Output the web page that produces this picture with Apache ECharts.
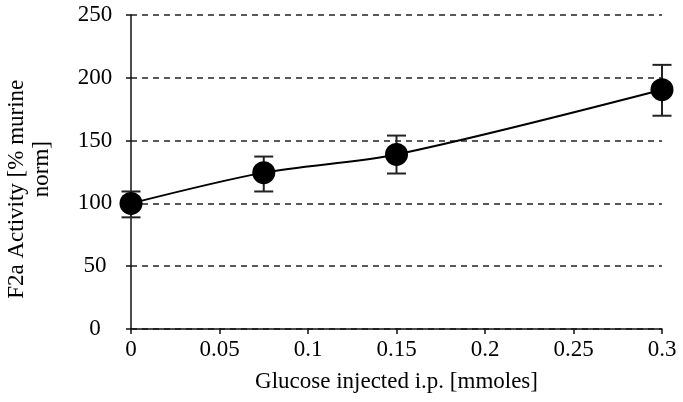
<!DOCTYPE html>
<html>
<head>
<meta charset="utf-8">
<script src="https://cdn.jsdelivr.net/npm/echarts@6/dist/echarts.min.js"></script>
<style>
html,body{margin:0;padding:0;background:#fff;}
#chart{width:683px;height:402px;}
</style>
</head>
<body>
<div id="chart"></div>
<script>
var glucose = [0, 0.075, 0.15, 0.3];
var activity = [100, 124.5, 139, 190.5];
var errLow = [88.9, 109.5, 123.8, 169.8];
var errHigh = [109.5, 137.3, 154, 210.3];
var xTicks = [0, 0.05, 0.1, 0.15, 0.2, 0.25, 0.3];
var yTicks = [0, 50, 100, 150, 200, 250];

var FONT = '"Liberation Serif", "Times New Roman", serif';
var INK = '#000';

var points = glucose.map(function (x, i) { return [x, activity[i]]; });
var errData = glucose.map(function (x, i) { return [x, errLow[i], errHigh[i]]; });

var chart = echarts.init(document.getElementById('chart'));
chart.setOption({
  animation: false,
  backgroundColor: '#fff',
  grid: { left: 131, right: 21, top: 15, bottom: 73, containLabel: false, outerBoundsMode: 'none' },
  xAxis: {
    type: 'value',
    min: xTicks[0],
    max: xTicks[xTicks.length - 1],
    interval: 0.05,
    name: 'Glucose injected i.p. [mmoles]',
    nameLocation: 'middle',
    nameGap: 41,
    nameTextStyle: { fontFamily: FONT, fontSize: 23, color: INK },
    axisLine: { show: true, onZero: false, lineStyle: { color: '#111', width: 1.5 } },
    axisTick: { show: true, inside: false, length: 5, lineStyle: { color: '#111', width: 1.5 } },
    axisLabel: {
      margin: 9,
      fontFamily: FONT, fontSize: 23, color: INK,
      showMinLabel: true, showMaxLabel: true,
      formatter: function (v) { return String(+v.toFixed(2)); }
    },
    splitLine: { show: false }
  },
  yAxis: {
    type: 'value',
    min: yTicks[0],
    max: yTicks[yTicks.length - 1],
    interval: 50,
    name: 'F2a Activity [% murine      \n norm]',
    nameLocation: 'middle',
    nameGap: 77,
    nameTextStyle: { fontFamily: FONT, fontSize: 23, color: INK, lineHeight: 25 },
    axisLine: { show: true, onZero: false, lineStyle: { color: '#111', width: 1.5 } },
    axisTick: { show: true, inside: false, length: 5, lineStyle: { color: '#111', width: 1.5 } },
    axisLabel: {
      margin: 36, align: 'center',
      fontFamily: FONT, fontSize: 23, color: INK,
      showMinLabel: true, showMaxLabel: true
    },
    splitLine: { show: true, lineStyle: { color: '#222', width: 1.5, type: [6, 5] } }
  },
  series: [
    {
      type: 'custom',
      z: 2,
      data: errData,
      renderItem: function (params, api) {
        var x = api.value(0);
        var lo = api.coord([x, api.value(1)]);
        var hi = api.coord([x, api.value(2)]);
        var hw = 9.5;
        var st = { stroke: '#222', lineWidth: 2 };
        return {
          type: 'group',
          children: [
            { type: 'line', shape: { x1: lo[0], y1: lo[1], x2: hi[0], y2: hi[1] }, style: st },
            { type: 'line', shape: { x1: lo[0] - hw, y1: lo[1], x2: lo[0] + hw, y2: lo[1] }, style: st },
            { type: 'line', shape: { x1: hi[0] - hw, y1: hi[1], x2: hi[0] + hw, y2: hi[1] }, style: st }
          ]
        };
      }
    },
    {
      type: 'line',
      z: 3,
      data: points,
      smooth: 0.3,
      showSymbol: false,
      lineStyle: { color: '#000', width: 2 }
    },
    {
      type: 'scatter',
      z: 4,
      data: points,
      symbol: 'circle',
      symbolSize: 23,
      itemStyle: { color: '#000', opacity: 1 }
    }
  ]
});
</script>
</body>
</html>
